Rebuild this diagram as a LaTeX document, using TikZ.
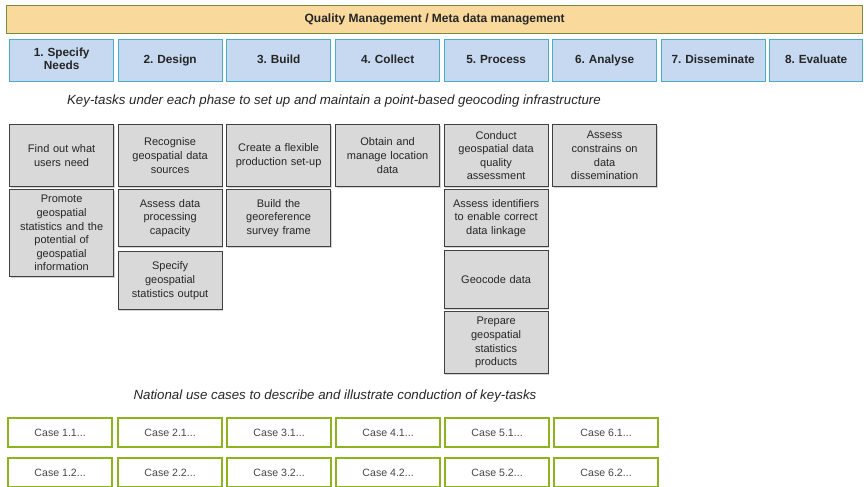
\documentclass[tikz,border=0pt]{standalone}
\usepackage{fontspec}
\setmainfont{Liberation Sans}
\usetikzlibrary{shadows}
\frenchspacing
\definecolor{barfill}{HTML}{F9D99C}
\definecolor{barline}{HTML}{7A8C3A}
\definecolor{phasefill}{HTML}{C6D9F1}
\definecolor{phaseline}{HTML}{4BACC6}
\definecolor{taskfill}{HTML}{D9D9D9}
\definecolor{taskline}{HTML}{404040}
\definecolor{caseline}{HTML}{8DB31E}
\definecolor{txt}{HTML}{262626}
\begin{document}
\begin{tikzpicture}[x=1pt,y=-1pt,
  bar/.style={draw=barline, fill=barfill, line width=1.3pt, anchor=north west,
    minimum width=856pt, minimum height=28pt, inner sep=0pt,
    font=\bfseries\fontsize{12}{13}\selectfont, text=txt},
  phase/.style={draw=phaseline, fill=phasefill, line width=1.3pt, anchor=north west,
    minimum width=104pt, minimum height=42pt, inner sep=1pt, text width=100pt, align=center,
    font=\bfseries\fontsize{11.8}{13}\selectfont, text=txt,
    execute at begin node=\strut, execute at end node=\strut},
  task/.style={draw=taskline, fill=taskfill, line width=1.2pt, anchor=north west,
    minimum width=104pt, inner sep=1pt, text width=102pt, align=center,
    font=\fontsize{11}{13.6}\selectfont, text=txt,
    drop shadow={shadow xshift=1pt, shadow yshift=-1.2pt, opacity=0.35}},
  casebox/.style={draw=caseline, fill=white, line width=2.2pt, anchor=north west,
    minimum width=104pt, minimum height=29pt, inner sep=0pt,
    font=\fontsize{10.6}{12}\selectfont, text=txt!85},
  heading/.style={font=\itshape\fontsize{13.3}{15}\selectfont, text=txt}]
\useasboundingbox (0,0) rectangle (868,487);

% management bar
\node[bar] (qm) at (6,5) {Quality Management / Meta data management};

% the eight phases
\node[phase] (p1) at (9,39)   {1. Specify\\Needs};
\node[phase] (p2) at (117.5,39) {2. Design};
\node[phase] (p3) at (226,39) {3. Build};
\node[phase] (p4) at (335,39) {4. Collect};
\node[phase] (p5) at (443.5,39) {5. Process};
\node[phase] (p6) at (552,39) {6. Analyse};
\node[phase] (p7) at (660.5,39) {7. Disseminate};
\node[phase, minimum width=93pt, text width=90pt] (p8) at (769,39) {8. Evaluate};

\node[heading] (h1) at (334,101) {Key-tasks under each phase to set up and maintain a point-based geocoding infrastructure};

% key-tasks
\node[task, minimum height=62pt] (t11) at (9,124) {Find out what\\users need};
\node[task, minimum height=87pt] (t12) at (9,189) {Promote\\geospatial\\statistics and the\\potential of\\geospatial\\information};

\node[task, minimum height=62pt] (t21) at (117.5,124) {Recognise\\geospatial data\\sources};
\node[task, minimum height=57pt] (t22) at (117.5,189) {Assess data\\processing\\capacity};
\node[task, minimum height=58pt] (t23) at (117.5,251) {Specify\\geospatial\\statistics output};

\node[task, minimum height=62pt] (t31) at (226,124) {Create a flexible\\production set-up};
\node[task, minimum height=57pt] (t32) at (226,189) {Build the\\georeference\\survey frame};

\node[task, minimum height=62pt] (t41) at (335,124) {Obtain and\\manage location\\data};

\node[task, minimum height=62pt] (t51) at (443.5,124) {Conduct\\geospatial data\\quality\\assessment};
\node[task, minimum height=57pt] (t52) at (443.5,189) {Assess identifiers\\to enable correct\\data linkage};
\node[task, minimum height=58pt] (t53) at (443.5,250) {Geocode data};
\node[task, minimum height=62pt] (t54) at (443.5,311) {Prepare\\geospatial\\statistics\\products};

\node[task, minimum height=62pt] (t61) at (552,124) {Assess\\constrains on\\data\\dissemination};

\node[heading] (h2) at (335,396) {National use cases to describe and illustrate conduction of key-tasks};

% use cases
\node[casebox] (c11) at (7,417)   {Case 1.1...};
\node[casebox] (c21) at (117,417) {Case 2.1...};
\node[casebox] (c31) at (226,417) {Case 3.1...};
\node[casebox] (c41) at (335,417) {Case 4.1...};
\node[casebox] (c51) at (444,417) {Case 5.1...};
\node[casebox] (c61) at (553,417) {Case 6.1...};
\node[casebox] (c12) at (7,457)   {Case 1.2...};
\node[casebox] (c22) at (117,457) {Case 2.2...};
\node[casebox] (c32) at (226,457) {Case 3.2...};
\node[casebox] (c42) at (335,457) {Case 4.2...};
\node[casebox] (c52) at (444,457) {Case 5.2...};
\node[casebox] (c62) at (553,457) {Case 6.2...};
\end{tikzpicture}
\end{document}
